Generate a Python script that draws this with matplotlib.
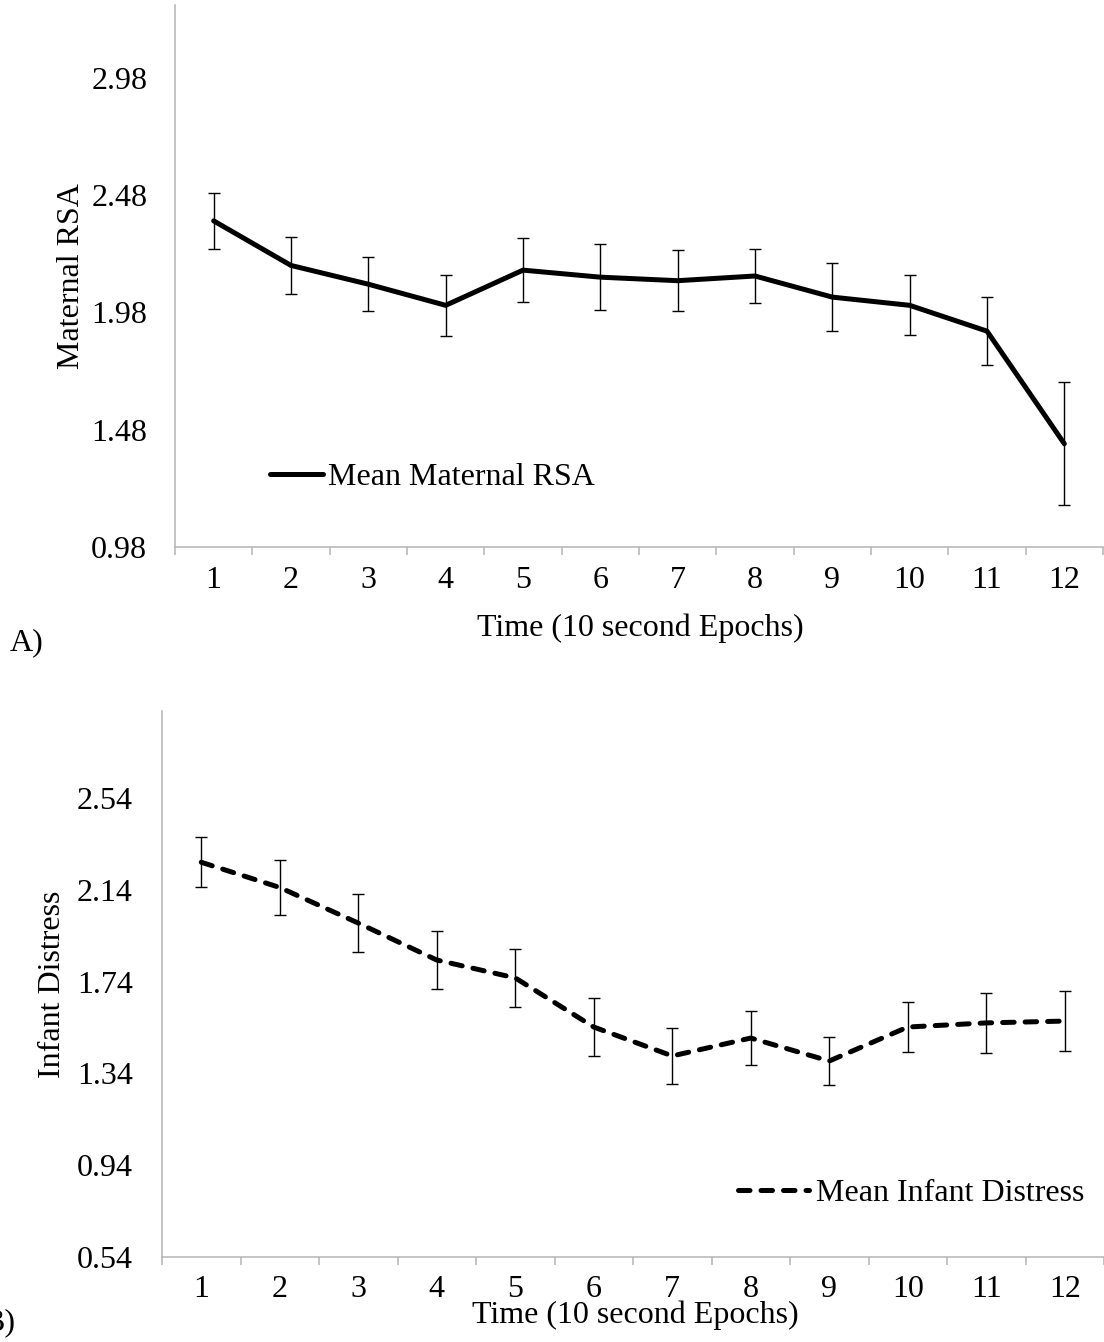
import matplotlib
matplotlib.use("Agg")
import matplotlib.pyplot as plt
import numpy as np

plt.rcParams["font.family"] = ["Liberation Serif", "DejaVu Serif"]

epochs = list(range(1, 13))

# panel A: mean maternal RSA with error bars
rsa_mean = [2.37, 2.18, 2.10, 2.01, 2.16, 2.13, 2.115, 2.135, 2.045, 2.01, 1.90, 1.42]
rsa_err = [0.12, 0.12, 0.115, 0.13, 0.135, 0.14, 0.13, 0.115, 0.145, 0.128, 0.145, 0.262]
rsa_ticks = [0.98, 1.48, 1.98, 2.48, 2.98]

# panel B: mean infant distress with error bars
distress_mean = [2.26, 2.15, 1.995, 1.834, 1.756, 1.542, 1.416, 1.494, 1.394, 1.542, 1.56, 1.568]
distress_err = [0.11, 0.118, 0.125, 0.128, 0.125, 0.127, 0.122, 0.116, 0.105, 0.11, 0.13, 0.13]
distress_ticks = [0.54, 0.94, 1.34, 1.74, 2.14, 2.54]

W, H = 1104, 1342
FS = 23
GRAY = "#b4b4b4"

fig = plt.figure(figsize=(W / 100, H / 100), dpi=100)


def px_axes(left, top, right, bottom):
    return fig.add_axes([left / W, 1 - bottom / H, (right - left) / W, (bottom - top) / H])


def style_axes(ax, yticks, ylim, xpad, ypad):
    for side in ("top", "right"):
        ax.spines[side].set_visible(False)
    for side in ("left", "bottom"):
        ax.spines[side].set_color(GRAY)
        ax.spines[side].set_linewidth(1.1)
    ax.set_xlim(0.5, 12.5)
    ax.set_ylim(*ylim)
    ax.set_xticks(epochs)
    ax.set_xticklabels([str(e) for e in epochs])
    ax.set_xticks(np.arange(0.5, 13, 1.0), minor=True)
    ax.tick_params(axis="x", which="major", length=0, pad=xpad, labelsize=FS)
    ax.tick_params(axis="x", which="minor", length=6, width=1.1, color=GRAY, direction="out")
    ax.set_yticks(yticks)
    ax.set_yticklabels([f"{t:.2f}" for t in yticks])
    ax.tick_params(axis="y", length=0, pad=ypad, labelsize=FS)


# ---- A) maternal RSA ----
ax1 = px_axes(175, 5, 1103, 547)
style_axes(ax1, rsa_ticks, (0.98, 3.29), 14, 20)
ax1.errorbar(epochs, rsa_mean, yerr=rsa_err, fmt="none", ecolor="black",
             elinewidth=1.0, capsize=4.3, capthick=1.0, zorder=2)
ax1.plot(epochs, rsa_mean, color="black", linewidth=3.6,
         solid_capstyle="round", label="Mean Maternal RSA", zorder=3)
ax1.set_xlabel("Time (10 second Epochs)", fontsize=FS, va="center")
ax1.xaxis.set_label_coords(0.501, -0.149)
ax1.set_ylabel("Maternal RSA", fontsize=FS, va="center")
ax1.yaxis.set_label_coords(-0.111, 0.5)
ax1.legend(loc="center left", bbox_to_anchor=(0.102, 0.129), frameon=False,
           fontsize=FS, handlelength=1.66, handletextpad=0.16,
           borderpad=0, borderaxespad=0)

# ---- B) infant distress ----
ax2 = px_axes(162, 711, 1104, 1257)
style_axes(ax2, distress_ticks, (0.54, 2.919), 13, 21)
ax2.errorbar(epochs, distress_mean, yerr=distress_err, fmt="none", ecolor="black",
             elinewidth=1.0, capsize=4.3, capthick=1.0, zorder=2)
ax2.plot(epochs, distress_mean, color="black", linewidth=3.6, dashes=(2.3, 2.2),
         dash_capstyle="round", label="Mean Infant Distress", zorder=3)
ax2.set_xlabel("Time (10 second Epochs)", fontsize=FS, va="center")
ax2.xaxis.set_label_coords(0.502, -0.106)
ax2.set_ylabel("Infant Distress", fontsize=FS, va="center")
ax2.yaxis.set_label_coords(-0.116, 0.5)
ax2.legend(loc="center left", bbox_to_anchor=(0.6115, 0.117), frameon=False,
           fontsize=FS, handlelength=2.23, handletextpad=0.2,
           borderpad=0, borderaxespad=0)

fig.text(10 / W, 1 - 643 / H, "A)", fontsize=FS, ha="left", va="center")
fig.text(-17 / W, 1 - 1323 / H, "B)", fontsize=FS, ha="left", va="center")

fig.savefig("out.png", dpi=100)
